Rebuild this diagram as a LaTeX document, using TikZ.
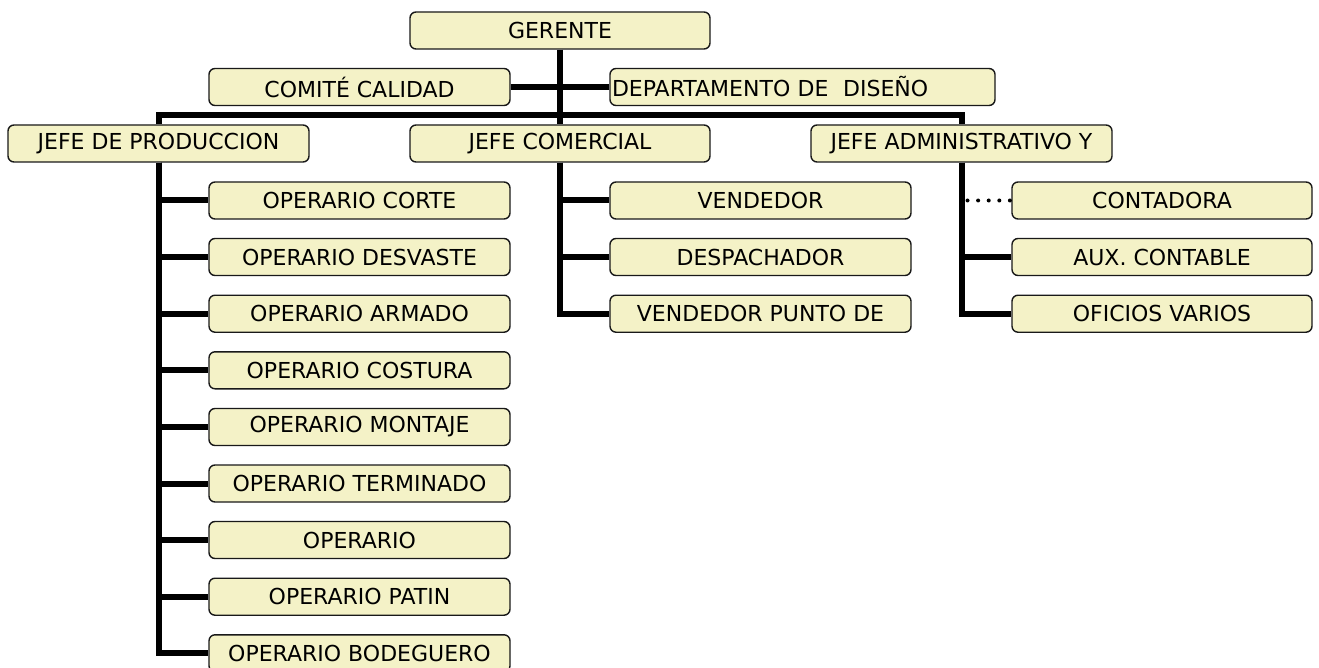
\documentclass[tikz,border=0pt]{standalone}
\usepackage{fontspec}
\setmainfont{DejaVu Sans}
\definecolor{boxfill}{RGB}{244,242,199}
\tikzset{
  orgbox/.style={draw=black!90, line width=1.4pt, fill=boxfill, rounded corners=6pt,
    minimum width=301pt, minimum height=37pt, inner sep=0pt,
    font=\fontsize{22}{26}\selectfont},
  link/.style={line width=6pt, black},
  dotlink/.style={line width=4pt, black, line cap=round, dash pattern=on 0pt off 10.6pt}
}
\begin{document}
\begin{tikzpicture}[x=1pt, y=-1pt]
\useasboundingbox (0,0) rectangle (1319,668);

% top level
\node[orgbox, minimum width=300pt] (gerente) at (560,30.5) {GERENTE};
\node[orgbox] (comite) at (359.5,87) {COMITÉ CALIDAD};
\node[orgbox, text width=381pt, inner xsep=2pt, align=left] (diseno) at (802.5,87) {DEPARTAMENTO DE\ \ DISEÑO};

% jefes
\node[orgbox] (produccion) at (158.5,143.5) {JEFE DE PRODUCCION};
\node[orgbox, minimum width=300pt] (comercial) at (560,143.5) {JEFE COMERCIAL};
\node[orgbox] (admin) at (961.5,143.5) {JEFE ADMINISTRATIVO Y};
\coordinate (bar) at (560,115);

% produccion
\node[orgbox] (corte) at (359.5,200.5) {OPERARIO CORTE};
\node[orgbox] (desvaste) at (359.5,257) {OPERARIO DESVASTE};
\node[orgbox] (armado) at (359.5,313.7) {OPERARIO ARMADO};
\node[orgbox] (costura) at (359.5,370.3) {OPERARIO COSTURA};
\node[orgbox] (montaje) at (359.5,427) {OPERARIO MONTAJE};
\node[orgbox] (terminado) at (359.5,483.5) {OPERARIO TERMINADO};
\node[orgbox] (operario) at (359.5,540) {OPERARIO};
\node[orgbox] (patin) at (359.5,596.7) {OPERARIO PATIN};
\node[orgbox] (bodeguero) at (359.5,653.3) {OPERARIO BODEGUERO};

% comercial
\node[orgbox] (vendedor) at (760.5,200.5) {VENDEDOR};
\node[orgbox] (despachador) at (760.5,257) {DESPACHADOR};
\node[orgbox] (punto) at (760.5,313.7) {VENDEDOR PUNTO DE};

% administrativo
\node[orgbox, minimum width=300pt] (contadora) at (1162,200.5) {CONTADORA};
\node[orgbox, minimum width=300pt] (aux) at (1162,257) {AUX. CONTABLE};
\node[orgbox, minimum width=300pt] (oficios) at (1162,313.7) {OFICIOS VARIOS};

% Relationships
\draw[link] (gerente.south) -- (comercial.north);
\draw[link] (comite.east) -- (comite.east -| gerente.south);
\draw[link] (diseno.west) -- (diseno.west -| gerente.south);
\draw[link] (produccion.north) |- (bar) -| (admin.north);
\foreach \n in {corte,desvaste,armado,costura,montaje,terminado,operario,patin,bodeguero}
  \draw[link] (produccion.south) |- (\n.west);
\foreach \n in {vendedor,despachador,punto}
  \draw[link] (comercial.south) |- (\n.west);
\foreach \n in {aux,oficios}
  \draw[link] (admin.south) |- (\n.west);
\draw[dotlink] ([xshift=6pt]admin.south |- contadora.west) -- (contadora.west);

\end{tikzpicture}
\end{document}
